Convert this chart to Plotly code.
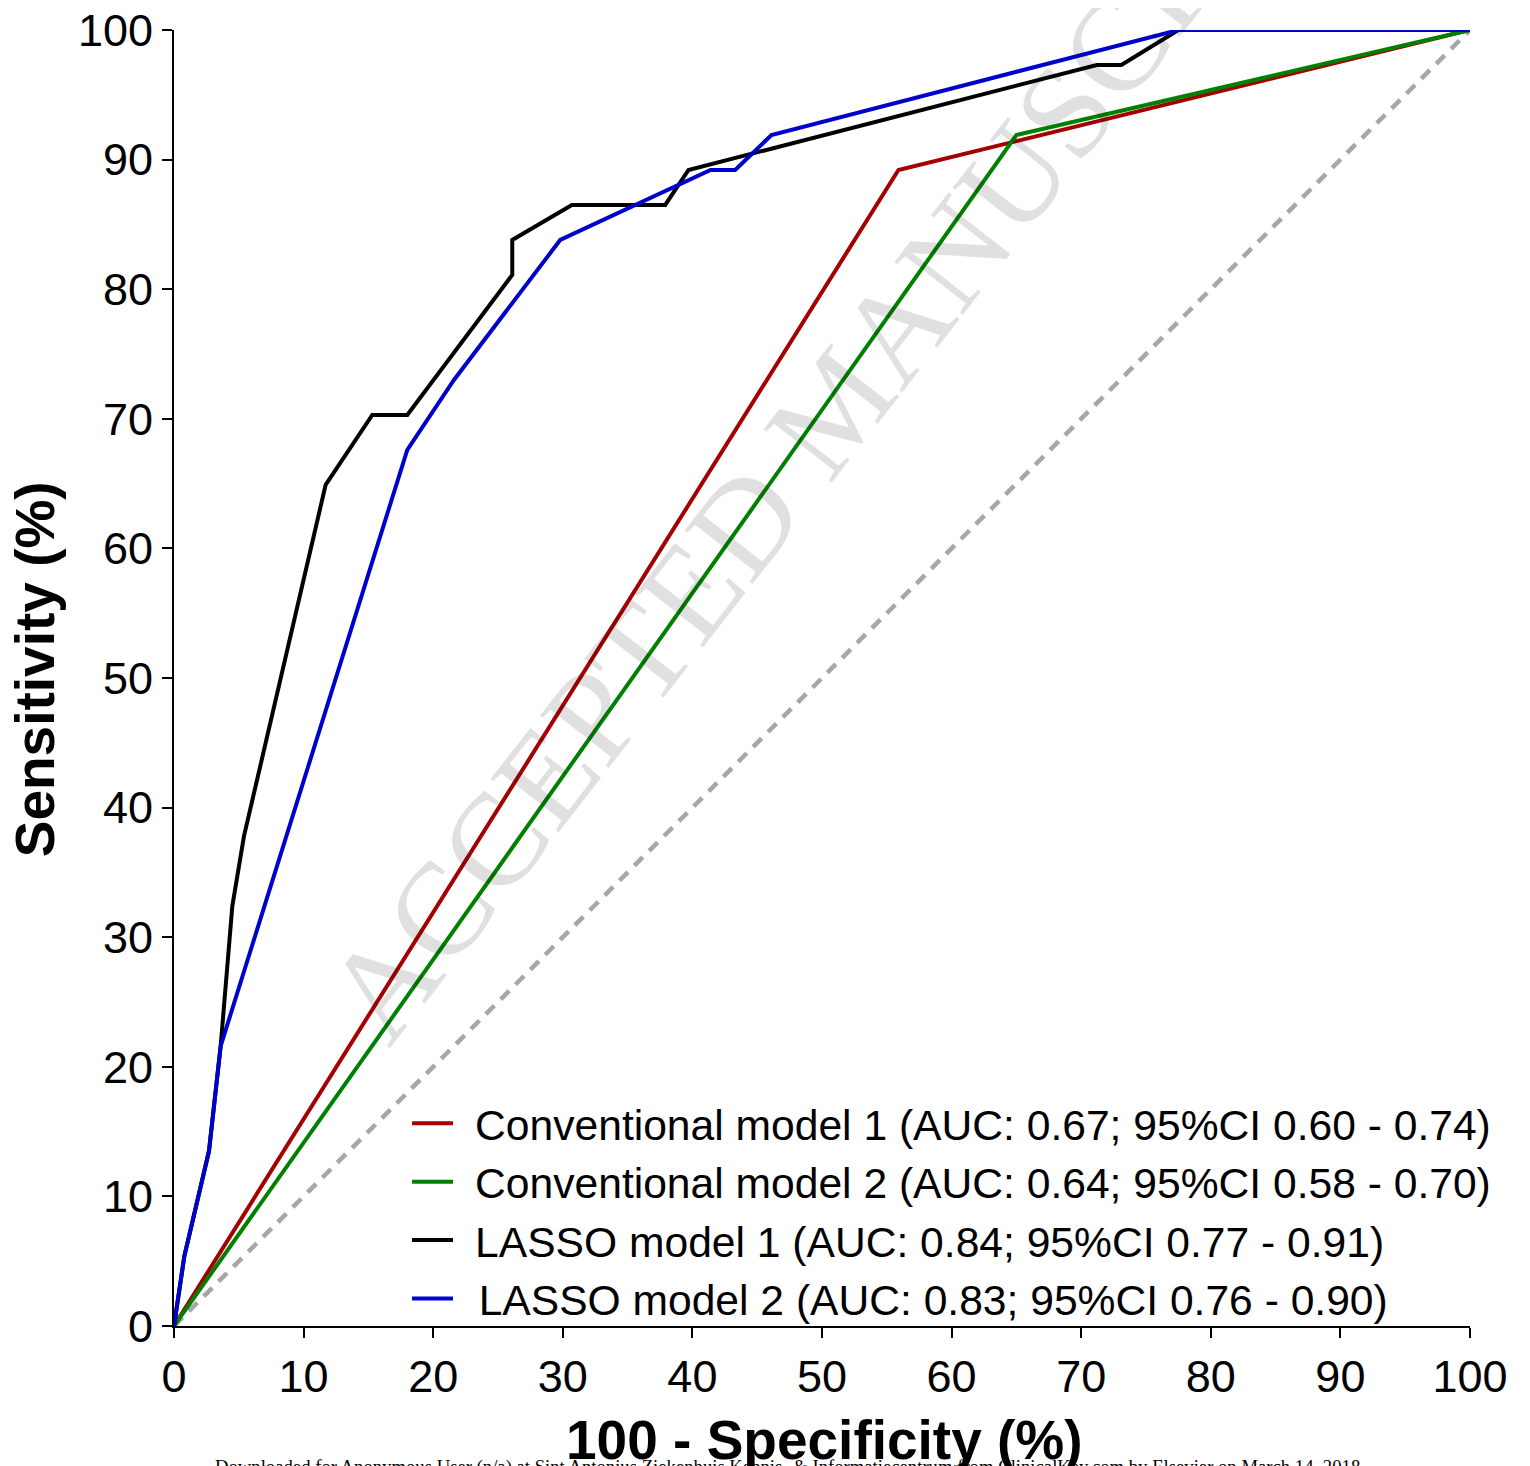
import plotly.graph_objects as go

# ---- data ----
x_ticks = [0, 10, 20, 30, 40, 50, 60, 70, 80, 90, 100]
y_ticks = [0, 10, 20, 30, 40, 50, 60, 70, 80, 90, 100]

ref_fpr = [0, 100]
ref_tpr = [0, 100]

conv1_name = "Conventional model 1 (AUC: 0.67; 95%CI 0.60 - 0.74)"
conv1_fpr = [0, 55.9, 100]
conv1_tpr = [0, 89.2, 100]

conv2_name = "Conventional model 2 (AUC: 0.64; 95%CI 0.58 - 0.70)"
conv2_fpr = [0, 65.0, 100]
conv2_tpr = [0, 91.9, 100]

lasso1_name = "LASSO model 1 (AUC: 0.84; 95%CI 0.77 - 0.91)"
lasso1_fpr = [0, 0.8, 2.7, 3.6, 4.5, 5.4, 11.7, 15.3, 18.0, 26.1, 26.1, 30.7, 37.9, 39.7, 71.2, 73.1, 77.5, 100]
lasso1_tpr = [0, 5.4, 13.5, 21.6, 32.4, 37.8, 64.9, 70.3, 70.3, 81.1, 83.8, 86.5, 86.5, 89.2, 97.3, 97.3, 100, 100]

lasso2_name = "LASSO model 2 (AUC: 0.83; 95%CI 0.76 - 0.90)"
lasso2_fpr = [0, 0.8, 2.7, 3.6, 18.0, 21.6, 29.8, 41.4, 43.3, 46.1, 77.5, 100]
lasso2_tpr = [0, 5.4, 13.5, 21.6, 67.6, 73.0, 83.8, 89.2, 89.2, 91.9, 100, 100]

x_title = "100 - Specificity (%)"
y_title = "Sensitivity (%)"
watermark = "ACCEPTED MANUSCRIPT"
footer = ("Downloaded for Anonymous User (n/a) at Sint Antonius Ziekenhuis Kennis- &amp; "
          "Informatiecentrum from ClinicalKey.com by Elsevier on March 14, 2018.")

FONT = "Arial, Liberation Sans, Helvetica, sans-serif"
SERIF = "Liberation Serif, Times New Roman, serif"
GAP = "\u2009\u2009"  # small gap between legend line sample and its text

fig = go.Figure()

fig.add_trace(go.Scatter(x=ref_fpr, y=ref_tpr, mode="lines", showlegend=False,
                         line=dict(color="#a6a6ab", width=4.5, dash="12px,9px"), hoverinfo="skip"))
fig.add_trace(go.Scatter(x=conv1_fpr, y=conv1_tpr, mode="lines", name=GAP + conv1_name,
                         line=dict(color="#a50000", width=4)))
fig.add_trace(go.Scatter(x=conv2_fpr, y=conv2_tpr, mode="lines", name=GAP + conv2_name,
                         line=dict(color="#008000", width=4)))
fig.add_trace(go.Scatter(x=lasso1_fpr, y=lasso1_tpr, mode="lines", name=GAP + lasso1_name,
                         line=dict(color="#000000", width=4)))
fig.add_trace(go.Scatter(x=lasso2_fpr, y=lasso2_tpr, mode="lines", name=GAP + "\u200a" + lasso2_name,
                         line=dict(color="#0000cc", width=4)))

axis_common = dict(
    range=[0, 100], showgrid=False, zeroline=False, showline=True, automargin=False,
    linecolor="black", linewidth=2, ticks="outside", ticklen=10, tickwidth=2,
    tickcolor="black", tickfont=dict(family=FONT, size=45, color="black"),
    ticklabeloverflow="allow",
)
fig.update_xaxes(tickvals=x_ticks, ticktext=[str(v) for v in x_ticks], **axis_common)
fig.update_yaxes(tickvals=y_ticks, ticktext=[str(v) for v in y_ticks], **axis_common)

fig.update_layout(
    width=1530, height=1466,
    margin=dict(l=166, r=68, t=22, b=148, autoexpand=False),
    plot_bgcolor="white", paper_bgcolor="white",
    font=dict(family=FONT, color="black"),
    legend=dict(x=0.1798, y=-0.0055, xanchor="left", yanchor="bottom", itemwidth=41,
                bgcolor="rgba(0,0,0,0)", font=dict(family=FONT, size=42.6, color="black"),
                traceorder="normal"),
    annotations=[
        dict(text=watermark, xref="paper", yref="paper", x=0.511, y=0.711,
             xanchor="center", yanchor="middle", textangle=-52, showarrow=False,
             font=dict(family=SERIF, size=132, color="rgba(0,0,0,0.12)")),
        dict(text="<b>" + y_title + "</b>", xref="paper", yref="paper", x=-0.107, y=0.507,
             xanchor="center", yanchor="middle", textangle=-90, showarrow=False,
             font=dict(family=FONT, size=55, color="black")),
        dict(text="<b>" + x_title + "</b>", xref="paper", yref="paper", x=0.5023, y=-0.088,
             xanchor="center", yanchor="middle", showarrow=False,
             font=dict(family=FONT, size=55, color="black")),
        dict(text=footer, xref="paper", yref="paper", x=0.475, y=-0.0985,
             xanchor="center", yanchor="top", showarrow=False,
             font=dict(family=SERIF, size=18.7, color="black")),
    ],
)

fig.write_html("out.html")
